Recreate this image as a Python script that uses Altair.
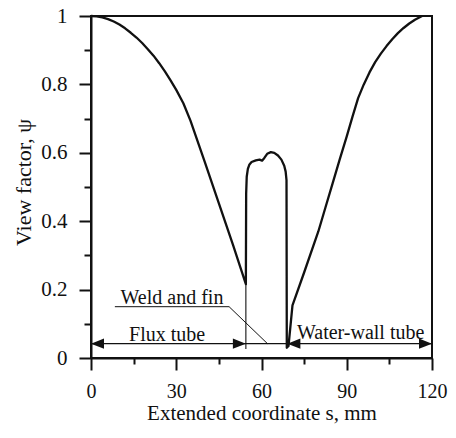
import altair as alt
import pandas as pd

# main curve: extended coordinate s (mm) and view factor psi
s_vals = [0, 2, 4, 6, 8, 10, 12, 14, 16, 18, 20, 22, 24, 26, 28, 30, 32.5, 35, 40, 45, 50, 54.5,
          54.6, 54.8, 55.2, 55.7, 56.5, 58.0, 59.3, 60.2, 61.0, 62.0, 63.3, 64.5, 65.8, 67.0, 68.0, 68.5, 68.8,
          68.9, 69.5, 70.9, 75, 80, 82.5, 85, 87.5, 90, 92, 94, 96, 98, 100, 102, 104, 106, 108, 110, 112, 114, 116.5]
psi_vals = [1.0, 0.999, 0.996, 0.991, 0.984, 0.975, 0.964, 0.951, 0.937, 0.921, 0.903, 0.884, 0.862, 0.838, 0.812, 0.784, 0.745, 0.694, 0.574, 0.452, 0.33, 0.216,
            0.48, 0.53, 0.553, 0.565, 0.573, 0.578, 0.58, 0.577, 0.585, 0.597, 0.602, 0.600, 0.592, 0.58, 0.562, 0.545, 0.52,
            0.03, 0.035, 0.154, 0.25, 0.37, 0.44, 0.51, 0.58, 0.648, 0.705, 0.76, 0.80, 0.835, 0.865, 0.89, 0.912, 0.932, 0.95, 0.965, 0.978, 0.989, 1.0]

# annotation geometry (data units)
arrow_line_s = [0, 120]
arrow_line_psi = [0.042, 0.042]
arrow_s = [0, 54.5, 69.1, 120]
arrow_dir = ["left", "right", "left", "right"]
weld_s = [54.5]
weld_psi_lo = [0.026]
weld_psi_hi = [0.216]
leader_s = [8.4, 48.6, 62.1]
leader_psi = [0.15, 0.15, 0.042]
label_text = ["Weld and fin", "Flux tube", "Water-wall tube"]
label_s = [28.5, 26.8, 94.9]
label_psi = [0.159, 0.050, 0.056]

x_major = [0, 30, 60, 90, 120]
x_minor = [15, 45, 75, 105]
y_major = [0, 0.2, 0.4, 0.6, 0.8, 1.0]
y_minor = [0.1, 0.3, 0.5, 0.7, 0.9]

FONT = "Liberation Serif"
INK = "#111111"

curve = pd.DataFrame({"s": s_vals, "psi": psi_vals, "i": range(len(s_vals))})
xs = alt.Scale(domain=[0, 120], nice=False)
ys = alt.Scale(domain=[0, 1], nice=False)

x_axis = alt.Axis(
    orient="bottom", values=x_major, tickSize=12, format="~r",
    labelFontSize=20, labelFont=FONT, labelColor=INK, labelPadding=11,
    labelFlush=False, labelOverlap=False,
    tickWidth=2, tickColor=INK, domainWidth=2, domainColor=INK, grid=False,
    title="Extended coordinate s, mm", titleFont=FONT, titleFontSize=21,
    titleFontWeight="normal", titleColor=INK, titleY=61, titleBaseline="alphabetic",
)
y_axis = alt.Axis(
    orient="left", values=y_major, tickSize=12, format="~r",
    labelFontSize=21, labelFont=FONT, labelColor=INK, labelPadding=12,
    labelFlush=False, labelOverlap=False,
    tickWidth=2, tickColor=INK, domainWidth=2, domainColor=INK, grid=False,
    title="View factor, ψ", titleFont=FONT, titleFontSize=22,
    titleFontWeight="normal", titleColor=INK, titleX=-68, titleY=166,
    titleAngle=270, titleBaseline="middle", titleAlign="center",
)
x_axis_minor = alt.Axis(orient="bottom", values=x_minor, tickSize=6, labels=False, domain=False,
                        tickWidth=2, tickColor=INK, grid=False)
y_axis_minor = alt.Axis(orient="left", values=y_minor, tickSize=7, labels=False, domain=False,
                        tickWidth=2, tickColor=INK, grid=False)

line = alt.Chart(curve).mark_line(color=INK, strokeWidth=2.3, interpolate="linear", strokeJoin="round").encode(
    x=alt.X("s:Q", scale=xs, axis=x_axis),
    y=alt.Y("psi:Q", scale=ys, axis=y_axis),
    order="i:Q",
)

arrow_line = alt.Chart(pd.DataFrame({"s": [arrow_line_s[0]], "s2": [arrow_line_s[1]], "psi": [arrow_line_psi[0]]})).mark_rule(
    color=INK, strokeWidth=1.1).encode(x="s:Q", x2="s2:Q", y="psi:Q")

weld = alt.Chart(pd.DataFrame({"s": weld_s, "p1": weld_psi_lo, "p2": weld_psi_hi})).mark_rule(
    color=INK, strokeWidth=1.1).encode(x="s:Q", y="p1:Q", y2="p2:Q")

leader = alt.Chart(pd.DataFrame({"s": leader_s, "psi": leader_psi, "i": range(len(leader_s))})).mark_line(
    color=INK, strokeWidth=1.0).encode(x="s:Q", y="psi:Q", order="i:Q")

heads = alt.Chart(pd.DataFrame({"s": arrow_s, "psi": [arrow_line_psi[0]] * len(arrow_s), "dir": arrow_dir})).mark_point(
    filled=True, opacity=1, color=INK, size=676, strokeWidth=0).encode(
    x="s:Q", y="psi:Q",
    shape=alt.Shape("dir:N", legend=None, scale=alt.Scale(
        domain=["left", "right"], range=["M0,0L1,-0.4L1,0.4Z", "M0,0L-1,-0.4L-1,0.4Z"])),
)

labels = alt.Chart(pd.DataFrame({"t": label_text, "s": label_s, "psi": label_psi})).mark_text(
    font=FONT, fontSize=20, color=INK, align="center", baseline="alphabetic").encode(
    x="s:Q", y="psi:Q", text="t:N")

main = alt.layer(line, arrow_line, weld, leader, heads, labels)

minor = alt.Chart(curve).mark_line(opacity=0).encode(
    x=alt.X("s:Q", scale=xs, axis=x_axis_minor, title=""),
    y=alt.Y("psi:Q", scale=ys, axis=y_axis_minor, title=""),
    order="i:Q",
)

chart = alt.layer(main, minor).resolve_axis(x="independent", y="independent").properties(
    width=341, height=342,
    background="white",
    autosize=alt.AutoSizeParams(type="none"),
    padding={"left": 83, "top": 8, "right": 16, "bottom": 66},
).configure_view(stroke=INK, strokeWidth=2).configure_axis(labelFont=FONT, titleFont=FONT)

chart.save("out.html", embed_options={"renderer": "svg", "actions": False})
